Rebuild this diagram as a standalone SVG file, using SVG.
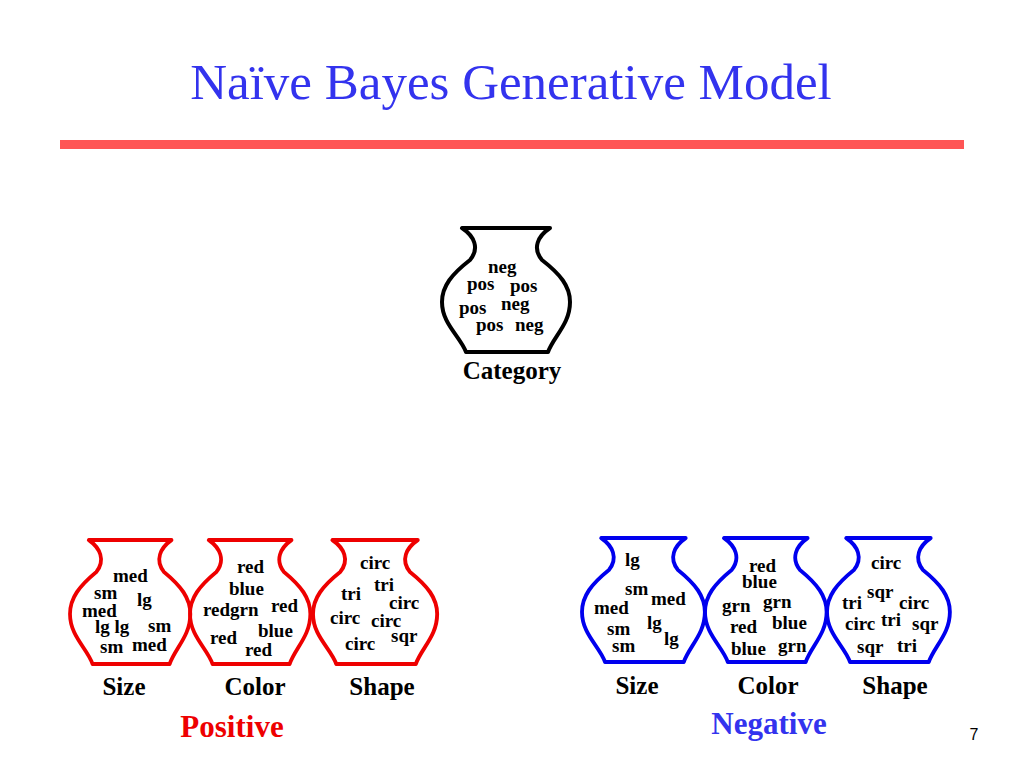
<svg xmlns="http://www.w3.org/2000/svg" width="1024" height="768" viewBox="0 0 1024 768">
<style>
.u{fill:none;stroke-width:4;stroke-linejoin:round}
.w{font-family:'Liberation Serif',serif;font-weight:bold;font-size:19px;fill:#000}
.l{font-family:'Liberation Serif',serif;font-weight:bold;font-size:25px;fill:#000;text-anchor:middle}
</style>
<defs>
<path id="urn" d="M20,2 L108,2 C96,10 90,22 100,34 C118,48 128,60 128,76 C128,98 112,110 106,126 L24,126 C18,110 0,98 0,76 C0,60 10,48 28,34 C38,22 32,10 20,2 Z"/>
</defs>
<rect width="1024" height="768" fill="#fff"/>
<text x="511" y="99" text-anchor="middle" font-family="'Liberation Serif',serif" font-size="51" fill="#3333ee">Naïve Bayes Generative Model</text>
<rect x="60" y="140" width="904" height="9" fill="#ff5555"/>
<g id="category">
<use href="#urn" x="442" y="226" class="u" stroke="#000"/>
<text class="w" x="488" y="273">neg</text><text class="w" x="467" y="290">pos</text><text class="w" x="510" y="292">pos</text>
<text class="w" x="459" y="314">pos</text><text class="w" x="501" y="310">neg</text><text class="w" x="476" y="331">pos</text><text class="w" x="515" y="331">neg</text>
<text class="l" x="512" y="379">Category</text>
</g>
<g id="pos-size">
<use href="#urn" transform="translate(70,538) scale(0.94,1)" class="u" stroke="#ee0000"/>
<text class="w" x="113" y="582">med</text><text class="w" x="94" y="599">sm</text><text class="w" x="137" y="606">lg</text>
<text class="w" x="82" y="617">med</text><text class="w" x="95" y="633">lg lg</text><text class="w" x="148" y="632">sm</text>
<text class="w" x="100" y="653">sm</text><text class="w" x="132" y="651">med</text>
<text class="l" x="124" y="695">Size</text>
</g>
<g id="pos-color">
<use href="#urn" transform="translate(190,538) scale(0.94,1)" class="u" stroke="#ee0000"/>
<text class="w" x="237" y="573">red</text><text class="w" x="229" y="595">blue</text><text class="w" x="203" y="616">redgrn</text><text class="w" x="271" y="612">red</text>
<text class="w" x="210" y="644">red</text><text class="w" x="258" y="637">blue</text><text class="w" x="245" y="656">red</text>
<text class="l" x="255" y="695">Color</text>
</g>
<g id="pos-shape">
<use href="#urn" transform="translate(313,538) scale(0.97,1)" class="u" stroke="#ee0000"/>
<text class="w" x="360" y="569">circ</text><text class="w" x="374" y="591">tri</text><text class="w" x="341" y="600">tri</text><text class="w" x="389" y="609">circ</text>
<text class="w" x="330" y="624">circ</text><text class="w" x="371" y="627">circ</text><text class="w" x="345" y="650">circ</text><text class="w" x="391" y="642">sqr</text>
<text class="l" x="382" y="695">Shape</text>
</g>
<g id="neg-size">
<use href="#urn" transform="translate(582,536) scale(0.96,1)" class="u" stroke="#0000ee"/>
<text class="w" x="625" y="566">lg</text><text class="w" x="625" y="595">sm</text><text class="w" x="651" y="605">med</text><text class="w" x="594" y="614">med</text>
<text class="w" x="607" y="635">sm</text><text class="w" x="647" y="629">lg</text><text class="w" x="664" y="645">lg</text><text class="w" x="612" y="652">sm</text>
<text class="l" x="637" y="694">Size</text>
</g>
<g id="neg-color">
<use href="#urn" transform="translate(705,536) scale(0.95,1)" class="u" stroke="#0000ee"/>
<text class="w" x="749" y="572">red</text><text class="w" x="742" y="588">blue</text><text class="w" x="722" y="612">grn</text><text class="w" x="763" y="608">grn</text>
<text class="w" x="730" y="633">red</text><text class="w" x="772" y="629">blue</text><text class="w" x="731" y="655">blue</text><text class="w" x="778" y="652">grn</text>
<text class="l" x="768" y="694">Color</text>
</g>
<g id="neg-shape">
<use href="#urn" transform="translate(827,536) scale(0.96,1)" class="u" stroke="#0000ee"/>
<text class="w" x="871" y="569">circ</text><text class="w" x="867" y="598">sqr</text><text class="w" x="842" y="609">tri</text><text class="w" x="899" y="609">circ</text>
<text class="w" x="845" y="630">circ</text><text class="w" x="881" y="626">tri</text><text class="w" x="912" y="630">sqr</text>
<text class="w" x="857" y="653">sqr</text><text class="w" x="897" y="652">tri</text>
<text class="l" x="895" y="694">Shape</text>
</g>
<text x="232" y="737" text-anchor="middle" font-family="'Liberation Serif',serif" font-weight="bold" font-size="31" fill="#ee0000">Positive</text>
<text x="769" y="734" text-anchor="middle" font-family="'Liberation Serif',serif" font-weight="bold" font-size="31" fill="#3333ee">Negative</text>
<text x="974" y="740" text-anchor="middle" font-family="'Liberation Sans',sans-serif" font-size="16" fill="#000">7</text>
<g id="connectors"/>
</svg>
